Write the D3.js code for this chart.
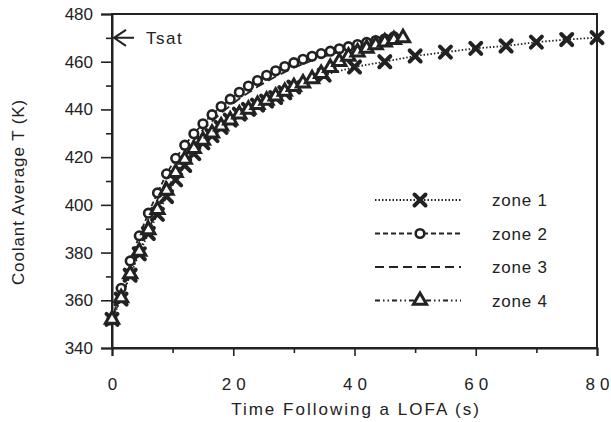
<!DOCTYPE html>
<html>
<head>
<meta charset="utf-8">
<script src="https://cdn.jsdelivr.net/npm/d3@7"></script>
<style>
  body { margin: 0; background: #fff; }
  text { font-family: "Liberation Sans", Arial, sans-serif; fill: #222; }
</style>
</head>
<body>
<div id="chart"></div>
<script>
const W = 611, H = 422;
const margin = {top: 14, right: 14, bottom: 74, left: 112};
const width = W - margin.left - margin.right;
const height = H - margin.top - margin.bottom;
const ink = "#222";

// Data
const zone1Time = [0, 1.5, 3, 4.5, 6, 7.5, 9, 10.5, 12, 13.5, 15, 16.5, 18, 19.5, 21, 22.5, 24, 25.5, 27, 28.5,
  30, 35, 40, 45, 50, 55, 60, 65, 70, 75, 80];
const zone1Temp = [352, 360.5, 370.5, 379.5, 388, 396, 403.5, 410.5, 416.5, 421.5, 426, 429, 432.5, 435.5, 438, 440, 441.8, 443.5, 445, 447,
  449.4, 454.4, 457.8, 460, 462.4, 464, 465.6, 466.6, 468.2, 469.3, 470.1];

const zone2Time = [0, 1.5, 3, 4.5, 6, 7.5, 9, 10.5, 12, 13.5, 15, 16.5, 18, 19.5, 21, 22.5, 24, 25.5, 27, 28.5,
  30, 31.5, 33, 34.5, 36, 37.5, 39, 40.5, 42, 43.5, 45, 46.5];
const zone2Temp = [352, 365, 376.5, 387, 396.5, 405, 413, 419.5, 425, 429.8, 434, 437.8, 441.2, 444.3, 447.2, 449.8, 452.1, 454.3, 456.2, 458,
  459.6, 461, 462.3, 463.4, 464.4, 465.4, 466.3, 467.2, 468.1, 468.9, 469.6, 470.5];

const zone3Time = [0, 3, 6, 9, 12, 15, 18, 21, 24, 27, 30, 33, 36, 39, 42, 45, 47];
const zone3Temp = [352, 374.5, 394, 410.5, 422.5, 431.5, 438.5, 444.5, 449.5, 453.8, 457.5, 460.5, 463, 465, 467, 468.8, 470];

const zone4Time = [0, 1.5, 3, 4.5, 6, 7.5, 9, 10.5, 12, 13.5, 15, 16.5, 18, 19.5, 21, 22.5, 24, 25.5, 27, 28.5,
  30, 31.5, 33, 34.5, 36, 37.5, 39, 40.5, 42, 43.5, 45, 46.5, 48];
const zone4Temp = [352, 361, 371, 380.5, 389.5, 398, 406, 413.5, 419, 423.5, 427, 430, 433, 435.5, 438, 440, 442, 443.8, 445.5, 447.5,
  449.5, 451, 452.8, 455, 457.5, 460, 462.2, 464, 465.6, 467, 468.2, 469.2, 470];

const zoneNames = ["zone 1", "zone 2", "zone 3", "zone 4"];
const xTicks = [0, 20, 40, 60, 80];
const yTicks = [340, 360, 380, 400, 420, 440, 460, 480];
const tsat = 470;

const series = [
  {name: zoneNames[0], t: zone1Time, v: zone1Temp, dash: "1.5,2", marker: "x"},
  {name: zoneNames[1], t: zone2Time, v: zone2Temp, dash: "5,3", marker: "circle"},
  {name: zoneNames[2], t: zone3Time, v: zone3Temp, dash: "9,5", marker: null},
  {name: zoneNames[3], t: zone4Time, v: zone4Temp, dash: "5,3,1.5,3,1.5,3", marker: "triangle"}
];

const svg = d3.select("#chart")
  .append("svg")
    .attr("width", W)
    .attr("height", H);

const g = svg.append("g")
  .attr("transform", `translate(${margin.left},${margin.top})`);

const x = d3.scaleLinear().domain([0, 80]).range([0, width]);
const y = d3.scaleLinear().domain([340, 480]).range([height, 0]);

//Axes
const xAxis = g.append("g")
  .attr("transform", `translate(0,${height})`)
  .call(d3.axisBottom(x).tickValues(xTicks).tickSize(8).tickFormat(d3.format("d")));
const yAxis = g.append("g")
  .call(d3.axisLeft(y).tickValues(yTicks).tickSize(11).tickFormat(d3.format("d")));

g.append("g")
  .attr("transform", `translate(0,${height})`)
  .call(d3.axisBottom(x).tickValues(d3.range(10, 80, 20)).tickSize(5).tickFormat(""))
  .call(a => a.select(".domain").remove());
g.append("g")
  .call(d3.axisLeft(y).tickValues(d3.range(350, 480, 20)).tickSize(6).tickFormat(""))
  .call(a => a.select(".domain").remove());

g.selectAll(".tick line").attr("stroke", ink).attr("stroke-width", 1.6);
g.selectAll(".domain").attr("stroke", ink).attr("stroke-width", 2);

// wide-set digits on the x labels, without trailing space
xAxis.selectAll("text")
  .attr("dy", "1.85em")
  .style("font-size", "17px")
  .each(function(d) {
    const chars = String(d).split("");
    const t = d3.select(this).text("");
    chars.forEach((c, i) => t.append("tspan").attr("dx", i ? 5 : 0).text(c));
  });
yAxis.selectAll("text")
  .attr("x", -19)
  .style("font-size", "17px");

// frame
g.append("rect")
  .attr("width", width)
  .attr("height", height)
  .attr("fill", "none")
  .attr("stroke", ink)
  .attr("stroke-width", 2);

//Titles
svg.append("text")
  .attr("x", 356)
  .attr("y", 415)
  .attr("text-anchor", "middle")
  .style("font-size", "17px")
  .style("letter-spacing", "2px")
  .text("Time Following a LOFA (s)");

svg.append("text")
  .attr("transform", `translate(24,${margin.top + height / 2 + 11}) rotate(-90)`)
  .attr("text-anchor", "middle")
  .style("font-size", "17px")
  .style("letter-spacing", "0.9px")
  .text("Coolant Average T (K)");

// Tsat arrow
const ty = y(tsat);
g.append("path")
  .attr("d", `M${x(0) + 2},${ty} L${x(0) + 22},${ty} M${x(0) + 14},${ty - 8} L${x(0) + 2},${ty} L${x(0) + 14},${ty + 8}`)
  .attr("fill", "none")
  .attr("stroke", ink)
  .attr("stroke-width", 2);
g.append("text")
  .attr("x", x(0) + 34)
  .attr("y", ty + 6)
  .style("font-size", "17px")
  .style("letter-spacing", "1.5px")
  .text("Tsat");

//Markers
function drawMarker(sel, type) {
  if (type === "circle") {
    sel.append("circle").attr("r", 4.3)
      .attr("fill", "#fff").attr("stroke", ink).attr("stroke-width", 2.6);
  } else if (type === "triangle") {
    sel.append("path").attr("d", d3.symbol(d3.symbolTriangle, 75)())
      .attr("fill", "#fff").attr("stroke", ink).attr("stroke-width", 3);
  } else if (type === "x") {
    sel.append("path").attr("d", "M-5.5,-5.5L5.5,5.5M-5.5,5.5L5.5,-5.5")
      .attr("stroke", ink).attr("stroke-width", 4).attr("stroke-linecap", "round");
  }
}

const line = d3.line().x(d => x(d[0])).y(d => y(d[1]));

series.forEach(s => {
  const pts = s.t.map((t, i) => [t, s.v[i]]);
  g.append("path")
    .datum(pts)
    .attr("d", line)
    .attr("fill", "none")
    .attr("stroke", ink)
    .attr("stroke-width", 1.8)
    .attr("stroke-dasharray", s.dash);
});

series.forEach(s => {
  if (!s.marker) return;
  s.t.forEach((t, i) => {
    const m = g.append("g").attr("transform", `translate(${x(t)},${y(s.v[i])})`);
    drawMarker(m, s.marker);
  });
});

//Legend
const legend = svg.append("g");
series.forEach((s, i) => {
  const ly = 200 + i * 33.5;
  const row = legend.append("g").attr("transform", `translate(375,${ly})`);
  row.append("line")
    .attr("x1", 0).attr("x2", 86)
    .attr("stroke", ink).attr("stroke-width", 2.2)
    .attr("stroke-dasharray", s.dash);
  if (s.marker) {
    const m = row.append("g").attr("transform", "translate(45,0)");
    drawMarker(m, s.marker);
  }
  row.append("text")
    .attr("x", 117)
    .attr("y", 6)
    .style("font-size", "17px")
    .style("letter-spacing", "0.8px")
    .text(s.name);
});
</script>
</body>
</html>
